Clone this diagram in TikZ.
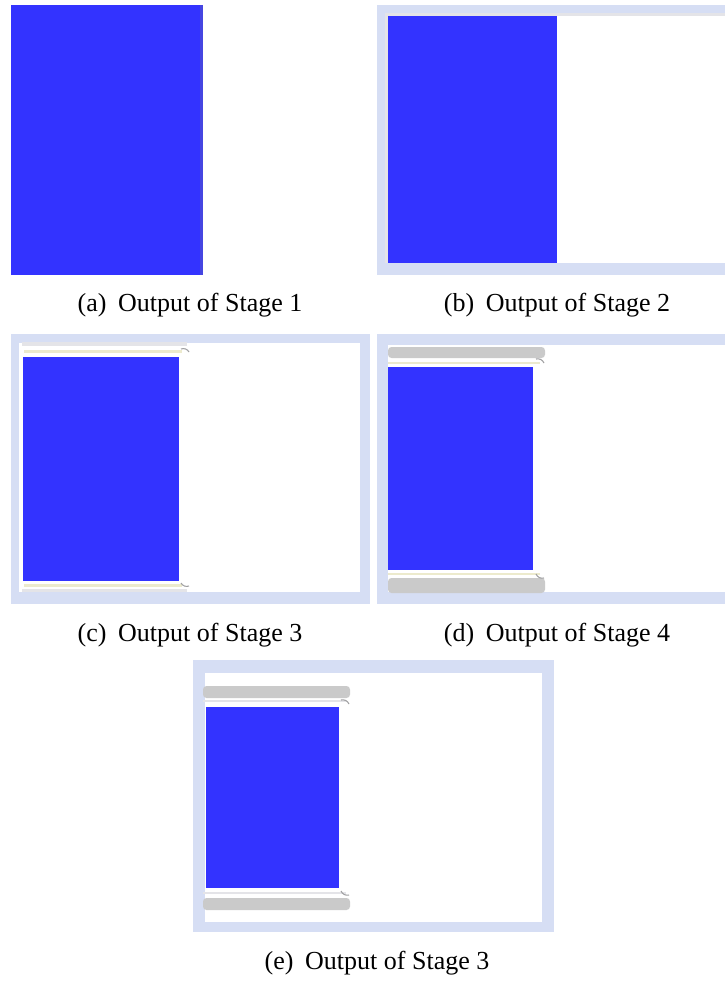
\documentclass[tikz,border=0pt]{standalone}
\usepackage{fontspec}
\setmainfont{Liberation Serif}
\usepackage{tikz}
\usetikzlibrary{positioning}
\definecolor{StageBlue}{RGB}{51,51,255}
\definecolor{EdgeBlue}{RGB}{70,70,225}
\definecolor{FrameLav}{RGB}{214,222,244}
\definecolor{TabGray}{RGB}{202,202,202}
\definecolor{LineGray}{RGB}{228,228,232}
\definecolor{PaleYellow}{RGB}{236,234,205}

\begin{document}
\begin{tikzpicture}[x=0.02cm,y=-0.02cm,
    caption/.style={font=\fontsize{14.8}{17}\selectfont,inner sep=0pt},
    frame/.style={fill=FrameLav},
    pane/.style={fill=white},
    blueblock/.style={fill=StageBlue},
    tab/.style={fill=TabGray,rounded corners=2pt}]
  \useasboundingbox[fill=white] (0,0) rectangle (725,981);
  % (a)
  \fill[blueblock] (11,5) rectangle (203,275);
  \fill[EdgeBlue] (200,5) rectangle (203,275);
  \node[caption] (capA) at (190,305) {(a)\hspace{0.45em}Output of Stage 1};
  % (b)
  \fill[frame] (377,5) rectangle (725,275);
  \fill[LineGray] (385,13) rectangle (725,263);
  \fill[pane] (388,16) rectangle (725,263);
  \fill[blueblock] (388,16) rectangle (557,263);
  \node[caption] (capB) at (557,305) {(b)\hspace{0.45em}Output of Stage 2};
  % (c)
  \fill[frame] (11,334) rectangle (370,604);
  \fill[pane] (19,343) rectangle (360,592);
  \fill[LineGray] (22,342) rectangle (187,346);
  \fill[PaleYellow] (24,350) rectangle (182,353);
  \fill[blueblock] (23,357) rectangle (179,581);
  \fill[PaleYellow] (24,584) rectangle (182,587);
  \fill[LineGray] (22,589) rectangle (187,592);
  \draw[LineGray!70!black,line width=0.6pt] (181,349) to[bend left=40] (189,352);
  \draw[LineGray!70!black,line width=0.6pt] (181,583) to[bend right=40] (189,586);
  \node[caption] (capC) at (190,635) {(c)\hspace{0.45em}Output of Stage 3};
  % (d)
  \fill[frame] (377,334) rectangle (725,604);
  \fill[pane] (388,345) rectangle (725,592);
  \fill[tab] (388,347) rectangle (545,358);
  \fill[PaleYellow] (388,362) rectangle (540,364);
  \fill[blueblock] (388,367) rectangle (533,570);
  \fill[PaleYellow] (388,573) rectangle (540,575);
  \fill[tab] (388,578) rectangle (545,593);
  \draw[LineGray!70!black,line width=0.6pt] (536,359) to[bend left=40] (544,363);
  \draw[LineGray!70!black,line width=0.6pt] (536,574) to[bend right=40] (544,578);
  \node[caption] (capD) at (557,635) {(d)\hspace{0.45em}Output of Stage 4};
  % (e)
  \fill[frame] (193,660) rectangle (554,932);
  \fill[pane] (205,673) rectangle (542,922);
  \fill[tab] (203,686) rectangle (350,698);
  \fill[LineGray] (203,700) rectangle (346,702);
  \fill[blueblock] (206,707) rectangle (339,888);
  \fill[LineGray] (203,892) rectangle (346,894);
  \fill[tab] (203,898) rectangle (350,910);
  \draw[LineGray!70!black,line width=0.6pt] (341,700) to[bend left=40] (349,704);
  \draw[LineGray!70!black,line width=0.6pt] (341,891) to[bend right=40] (349,895);
  \node[caption] (capE) at (377,963) {(e)\hspace{0.45em}Output of Stage 3};
\end{tikzpicture}
\end{document}
